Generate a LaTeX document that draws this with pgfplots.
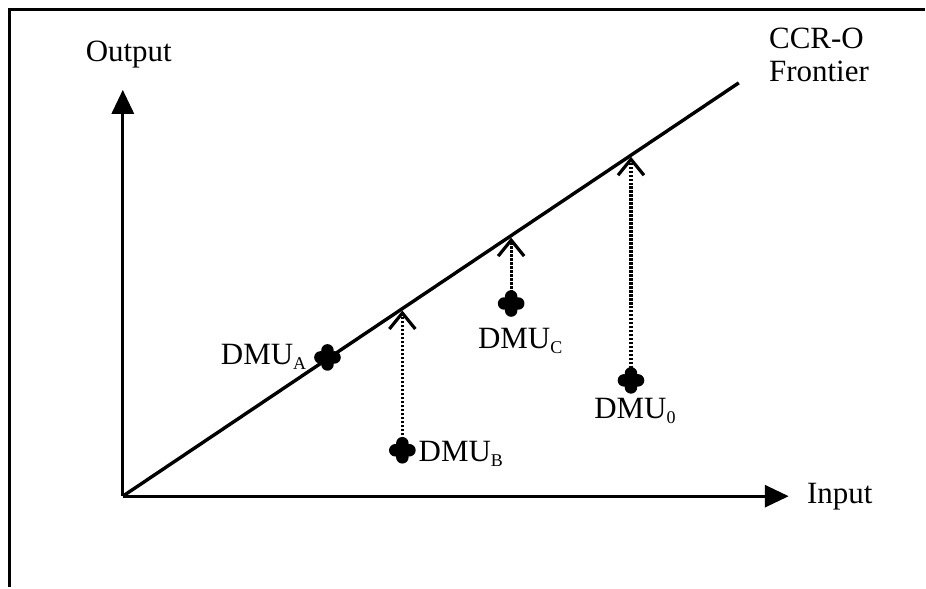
\documentclass[border=0pt]{standalone}
\usepackage{pgfplots}
\pgfplotsset{compat=1.18}
\usetikzlibrary{arrows.meta}
\usepackage{fontspec}
\setmainfont{Liberation Serif}
\pgfdeclareplotmark{quatre}{%
  \pgfpathcircle{\pgfqpoint{0pt}{0.52\pgfplotmarksize}}{0.46\pgfplotmarksize}%
  \pgfpathcircle{\pgfqpoint{0pt}{-0.52\pgfplotmarksize}}{0.46\pgfplotmarksize}%
  \pgfpathcircle{\pgfqpoint{0.52\pgfplotmarksize}{0pt}}{0.46\pgfplotmarksize}%
  \pgfpathcircle{\pgfqpoint{-0.52\pgfplotmarksize}{0pt}}{0.46\pgfplotmarksize}%
  \pgfpathcircle{\pgfpointorigin}{0.55\pgfplotmarksize}%
  \pgfusepathqfill
}
\newcommand{\sub}[1]{\raisebox{-2.5pt}{\fontsize{9}{9}\selectfont #1}}
\tikzset{lab/.style={font=\fontsize{15.5}{17}\selectfont}}
\begin{document}
\begin{tikzpicture}
\begin{axis}[
  scale only axis, width=463pt, height=294pt,
  xmin=0, xmax=926, ymin=0, ymax=588,
  axis lines=none, clip=false,
]
% bounding area
\addplot[draw=none, forget plot] coordinates {(0,0) (926,588)};
% frame (left and top)
\addplot[black, line width=1.5pt] coordinates {(10,0) (10,578) (926,578)};
% axes
\addplot[black, line width=1.6pt, -{Triangle[length=12pt,width=11pt]}] coordinates {(123,91) (790,91)};
\addplot[black, line width=1.6pt, -{Triangle[length=12pt,width=11pt]}] coordinates {(123,91) (123,498)};
% frontier
\addplot[black, line width=1.7pt] coordinates {(123,91) (740,505)};
% projections
\addplot[black, line width=1.6pt, dash pattern=on 1.1pt off 0.9pt, -{Straight Barb[length=8pt,width=13pt,line width=1.6pt]}] coordinates {(403,140) (403,277)};
\addplot[black, line width=1.6pt, dash pattern=on 1.1pt off 0.9pt, -{Straight Barb[length=8pt,width=13pt,line width=1.6pt]}] coordinates {(512,287) (512,350)};
\addplot[black, line width=1.6pt, dash pattern=on 1.1pt off 0.9pt, -{Straight Barb[length=8pt,width=13pt,line width=1.6pt]}] coordinates {(632,211) (632,431)};
% DMUs
\addplot[only marks, mark=quatre, mark size=6.8pt, black] coordinates {(328,230) (403,137) (512,284) (632,207)};
% labels
\node[lab, inner sep=0pt] at (axis cs:129,533) {Output};
\node[lab, anchor=west, align=left, inner sep=0pt] at (axis cs:770,533) {CCR-O\\Frontier};
\node[lab, anchor=west, inner sep=0pt] at (axis cs:808,91) {Input};
\node[lab, anchor=east, inner sep=0pt] at (axis cs:307,231) {DMU\sub{A}};
\node[lab, anchor=west, inner sep=0pt] at (axis cs:419,133) {DMU\sub{B}};
\node[lab, inner sep=0pt] at (axis cs:521,246) {DMU\sub{C}};
\node[lab, inner sep=0pt] at (axis cs:636,176) {DMU\sub{0}};
\end{axis}
\end{tikzpicture}
\end{document}
